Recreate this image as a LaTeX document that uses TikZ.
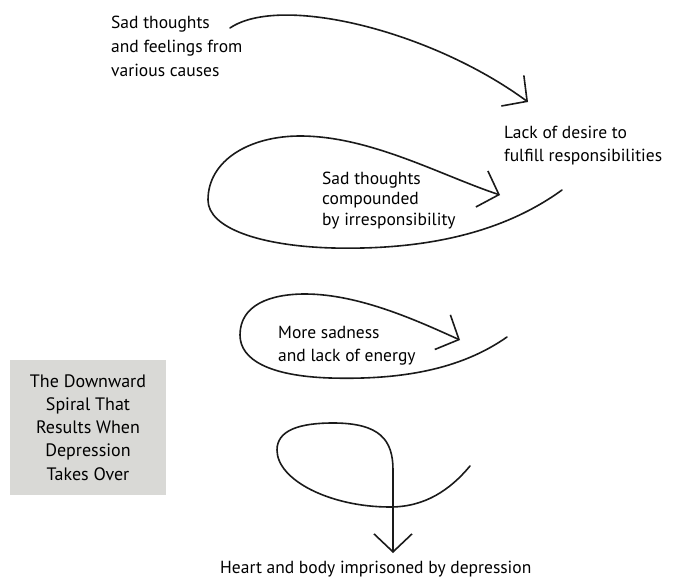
\documentclass[tikz,border=0pt]{standalone}
\usepackage{fontspec}
\setmainfont{PT Sans}
\usetikzlibrary{arrows.meta}
\newcommand{\txtblock}[2][l]{\begin{tabular}[t]{@{}#1@{}}#2\end{tabular}}
\begin{document}
\begin{tikzpicture}[x=1pt,y=-1pt,
  lbl/.style={inner sep=0pt, anchor=base west, font=\fontsize{17.5}{24}\selectfont},
  spiral/.style={line width=1.6pt, line cap=round},
  vtip/.style={-{Straight Barb[length=18pt,width=38pt,line width=1.6pt]}}]
\useasboundingbox (0,0) rectangle (675,586);
\definecolor{boxgray}{HTML}{D9D9D6}
\definecolor{ink}{HTML}{1A1A1A}

% text blocks
\node[lbl] (t1) at (111,29) {\txtblock{Sad thoughts\\and feelings from\\various causes}};
\node[lbl] (t2) at (504,138) {\txtblock{Lack of desire to\\fulfill responsibilities}};
\node[lbl, font=\fontsize{17.5}{20.5}\selectfont] (t3) at (322,184) {\txtblock{Sad thoughts\\compounded\\by irresponsibility}};
\node[lbl, font=\fontsize{17.5}{23}\selectfont] (t4) at (278,338) {\txtblock{More sadness\\and lack of energy}};
\node[lbl] (t5) at (220,573) {Heart and body imprisoned by depression};

% gray box
\fill[boxgray] (10,360) rectangle (166,495);
\node[lbl, anchor=base, font=\fontsize{18}{23.3}\selectfont] (t6) at (88,387)
  {\txtblock[c]{The Downward\\Spiral That\\Results When\\Depression\\Takes Over}};

% arc 1
\coordinate (a1s) at (230,28);
\coordinate (a1e) at (528,102);
\draw[spiral, vtip, ink] (a1s) .. controls (280,-6) and (430,30) .. (a1e);

% loop 2
\coordinate (l2s) at (562,190);
\coordinate (l2b) at (333,248);
\coordinate (l2l) at (208,200);
\coordinate (l2t) at (300,136);
\coordinate (l2e) at (500,195);
\draw[spiral, vtip, ink] (l2s) .. controls (500,235) and (420,250) .. (l2b)
  .. controls (260,246) and (208,228) .. (l2l)
  .. controls (208,160) and (250,136) .. (l2t)
  .. controls (370,136) and (440,175) .. (l2e);

% loop 3
\coordinate (l3s) at (507,337);
\coordinate (l3b) at (330,378);
\coordinate (l3l) at (240,335);
\coordinate (l3t) at (305,294);
\coordinate (l3e) at (460,340);
\draw[spiral, vtip, ink] (l3s) .. controls (460,370) and (400,380) .. (l3b)
  .. controls (270,376) and (240,360) .. (l3l)
  .. controls (240,305) and (270,294) .. (l3t)
  .. controls (360,294) and (420,322) .. (l3e);

% loop 4
\coordinate (l4s) at (470,466);
\coordinate (l4b) at (390,507);
\coordinate (l4l) at (277,450);
\coordinate (l4t) at (333,423);
\coordinate (l4d) at (393,470);
\coordinate (l4e) at (393,553);
\draw[spiral, vtip, ink] (l4s) .. controls (450,490) and (425,507) .. (l4b)
  .. controls (330,507) and (277,480) .. (l4l)
  .. controls (277,430) and (300,423) .. (l4t)
  .. controls (380,423) and (393,440) .. (l4d)
  -- (l4e);
\end{tikzpicture}
\end{document}
